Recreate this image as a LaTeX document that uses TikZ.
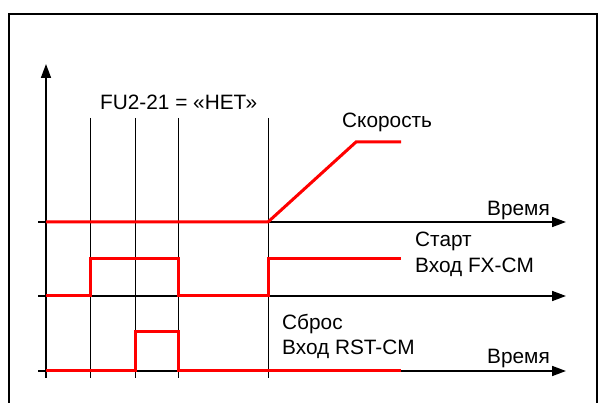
\documentclass[tikz,border=0pt]{standalone}
\usepackage{fontspec}
\setmainfont{Liberation Sans}
\usetikzlibrary{arrows.meta}
\begin{document}
\begin{tikzpicture}[x=1pt,y=-1pt,
  axis/.style={line width=1.6pt,-{Triangle[length=14pt,width=10pt]}},
  guide/.style={line width=0.9pt},
  sig/.style={draw=red,line width=3pt,line join=miter},
  lbl/.style={font=\fontsize{20.8}{24}\selectfont,inner sep=0pt,anchor=base west}]
\useasboundingbox (0,0) rectangle (600,403);
% frame (open at bottom)
\draw[line width=1.8pt] (9,420) -- (9,14) -- (597,14) -- (597,420);
% coordinates
\coordinate (vb) at (46,378);
\coordinate (vt) at (46,64);
\foreach \n/\y in {a/222,b/296,c/371}{
  \coordinate (\n0) at (38,\y);
  \coordinate (\n1) at (566,\y);
}
% guides
\foreach \x/\n in {90/g1,135/g2,178/g3,268/g4}{
  \coordinate (\n t) at (\x,118);
  \coordinate (\n b) at (\x,378);
  \draw[guide] (\n t) -- (\n b);
}
% axes
\draw[axis] (vb) -- (vt);
\draw[axis] (a0) -- (a1);
\draw[axis] (b0) -- (b1);
\draw[axis] (c0) -- (c1);
% signals
\draw[sig] (46,222) -- (268,222) -- (356,142) -- (401,142);
\draw[sig] (46,296) -- (90,296) -- (90,259) -- (178,259) -- (178,296) -- (268,296) -- (268,259) -- (401,259);
\draw[sig] (46,371) -- (135,371) -- (135,332) -- (178,332) -- (178,371) -- (401,371);
% labels
\node[lbl] (fu) at (100,110) {FU2-21 = «НЕТ»};
\node[lbl] (sk) at (342,128) {Скорость};
\node[lbl] (t1) at (487,216) {Время};
\node[lbl] (st) at (415,247) {Старт};
\node[lbl] (fx) at (415,273) {Вход FX-CM};
\node[lbl] (sb) at (282,330) {Сброс};
\node[lbl] (rs) at (282,355) {Вход RST-CM};
\node[lbl] (t2) at (487,364) {Время};
\end{tikzpicture}
\end{document}
